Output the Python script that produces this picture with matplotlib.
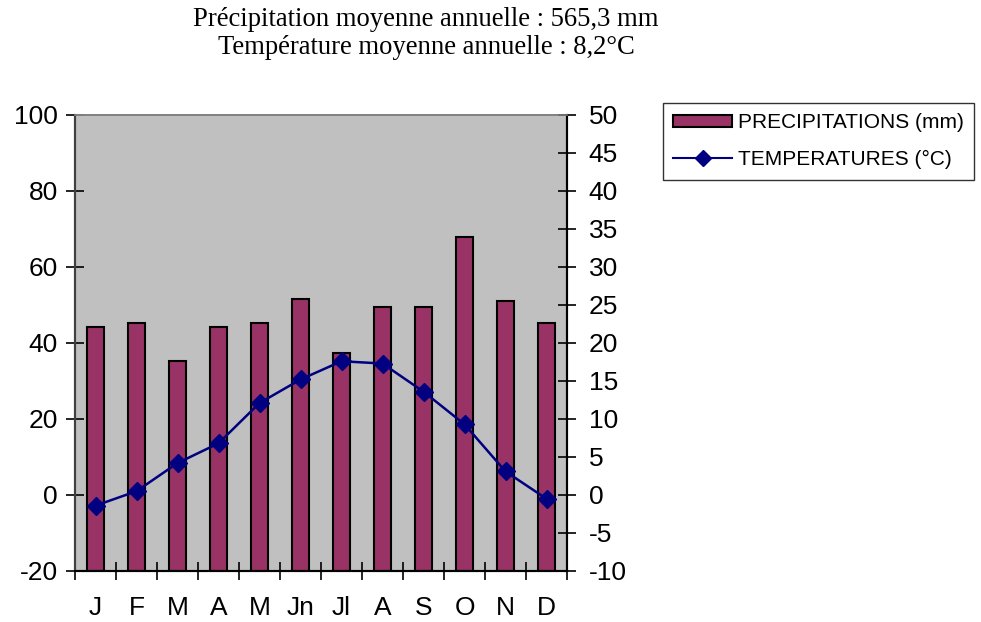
import matplotlib
matplotlib.use("Agg")
import matplotlib.pyplot as plt
import numpy as np
from matplotlib.patches import Patch
from matplotlib.lines import Line2D

months = ["J", "F", "M", "A", "M", "Jn", "Jl", "A", "S", "O", "N", "D"]
precipitation_mm = [44.2, 45.3, 35.3, 44.2, 45.3, 51.6, 37.4, 49.5, 49.5, 68.0, 51.1, 45.3]
temperature_c = [-1.4, 0.5, 4.2, 6.8, 12.1, 15.2, 17.6, 17.3, 13.6, 9.3, 3.1, -0.5]
title_lines = ["Précipitation moyenne annuelle : 565,3 mm",
               "Température moyenne annuelle : 8,2°C"]
precip_label = "PRECIPITATIONS (mm)"
temp_label = "TEMPERATURES (°C)"

BAR_COLOR = "#993366"
LINE_COLOR = "#000080"
BG_COLOR = "#C0C0C0"
SANS = ["Liberation Sans", "DejaVu Sans"]
SERIF = ["Liberation Serif", "DejaVu Serif"]
plt.rcParams["axes.unicode_minus"] = False

P_MIN, P_MAX = -20, 100
T_MIN, T_MAX = -10, 50

W, H = 981, 622
fig = plt.figure(figsize=(W / 100, H / 100), dpi=100)
ax = fig.add_axes([75 / W, 1 - 571 / H, (567 - 75) / W, (571 - 115) / H])
ax.set_facecolor(BG_COLOR)

x = np.arange(len(months))
# columns rise from the bottom of the value axis
ax.bar(x, np.array(precipitation_mm) - P_MIN, bottom=P_MIN, width=0.43,
       color=BAR_COLOR, edgecolor="black", linewidth=1.5, zorder=2)
ax.set_xlim(-0.5, len(months) - 0.5)
ax.set_ylim(P_MIN, P_MAX)
ax.set_yticks(np.arange(P_MIN, P_MAX + 1, 20))

# category labels centred, tick marks on the category boundaries
ax.set_xticks(x)
ax.set_xticklabels(months, fontfamily=SANS, fontsize=19)
ax.tick_params(axis="x", which="major", length=0, pad=18)
ax.set_xticks(np.arange(-0.5, len(months), 1.0), minor=True)
ax.tick_params(axis="x", which="minor", direction="inout", length=13, width=1.2)
ax.tick_params(axis="y", direction="inout", length=13, width=1.2, pad=6,
               labelsize=19)
for lab in ax.get_yticklabels():
    lab.set_fontfamily(SANS)

ax2 = ax.twinx()
ax2.plot(x, temperature_c, color=LINE_COLOR, linewidth=1.8, marker="D",
         markersize=9, markerfacecolor=LINE_COLOR, markeredgecolor=LINE_COLOR,
         zorder=3)
ax2.set_ylim(T_MIN, T_MAX)
ax2.set_yticks(np.arange(T_MIN, T_MAX + 1, 5))
ax2.tick_params(axis="y", direction="inout", length=13, width=1.2, pad=9,
                labelsize=19)
for lab in ax2.get_yticklabels():
    lab.set_fontfamily(SANS)

for a in (ax, ax2):
    a.spines["top"].set_color("#808080")
    a.spines["top"].set_linewidth(1.2)
    a.spines["left"].set_color("#404040")
    a.spines["left"].set_linewidth(1.5)
    a.spines["right"].set_color("black")
    a.spines["right"].set_linewidth(1.5)
    a.spines["bottom"].set_color("black")
    a.spines["bottom"].set_linewidth(1.5)

fig.text(426 / W, 1 - 19 / H, title_lines[0], ha="center", va="center",
         fontfamily=SERIF, fontsize=19.2)
fig.text(426 / W, 1 - 47 / H, title_lines[1], ha="center", va="center",
         fontfamily=SERIF, fontsize=19.2)

handles = [Patch(facecolor=BAR_COLOR, edgecolor="black", linewidth=1.5),
           Line2D([0], [0], color=LINE_COLOR, linewidth=1.5, marker="D",
                  markersize=8, markerfacecolor=LINE_COLOR)]
leg = fig.legend(handles, [precip_label, temp_label],
                 loc="upper left", bbox_to_anchor=(663 / W, 1 - 103 / H),
                 prop={"family": SANS, "size": 15}, frameon=True, fancybox=False,
                 handlelength=2.8, handleheight=0.55, handletextpad=0.3,
                 labelspacing=0.85, borderpad=0.5, borderaxespad=0)
leg.get_frame().set_edgecolor("black")
leg.get_frame().set_linewidth(1.0)

fig.savefig("out.png", dpi=100, facecolor="white")
